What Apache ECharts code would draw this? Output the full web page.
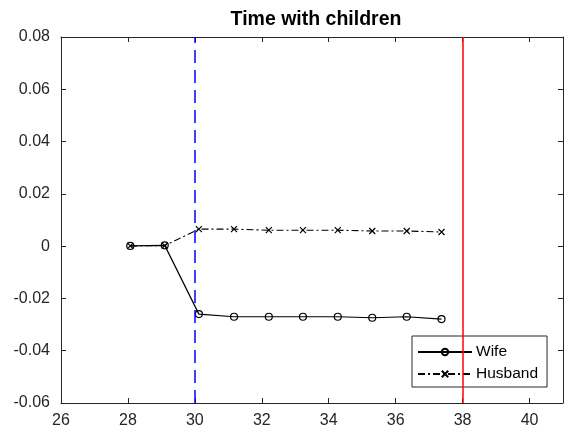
<!DOCTYPE html>
<html>
<head>
<meta charset="utf-8">
<script src="https://cdn.jsdelivr.net/npm/echarts@6/dist/echarts.min.js"></script>
<style>
html,body{margin:0;padding:0;background:#fff;}
#chart{width:573px;height:445px;}
</style>
</head>
<body>
<div id="chart"></div>
<script>
// Data
const ages = [28.07, 29.10, 30.12, 31.17, 32.21, 33.23, 34.27, 35.30, 36.33, 37.37];
const wife = [0.0001, 0.0003, -0.0260, -0.0270, -0.0270, -0.0270, -0.0270, -0.0274, -0.0270, -0.0279];
const husband = [0.0001, 0.0002, 0.0065, 0.0065, 0.0061, 0.0061, 0.0061, 0.0058, 0.0058, 0.0054];
const vlines = [30, 38];
const seriesNames = ['Wife', 'Husband'];
const titleText = 'Time with children';

const axisColor = '#262626';
const fontFam = '"Liberation Sans", Arial, Helvetica, sans-serif';

const chart = echarts.init(document.getElementById('chart'), null, {renderer: 'canvas'});

const xBase = {
  type: 'value', min: 26, max: 41, interval: 2,
  axisLine: {show: true, onZero: false, lineStyle: {color: axisColor, width: 1}},
  axisTick: {show: true, inside: true, length: 5, lineStyle: {color: axisColor}},
  splitLine: {show: false}
};
const yBase = {
  type: 'value', min: -0.06, max: 0.08, interval: 0.02,
  axisLine: {show: true, onZero: false, lineStyle: {color: axisColor, width: 1}},
  axisTick: {show: true, inside: true, length: 5, lineStyle: {color: axisColor}},
  splitLine: {show: false}
};

const option = {
  animation: false,
  backgroundColor: '#fff',
  title: {
    text: titleText,
    left: 316, textAlign: 'center', top: 10, padding: 0,
    textStyle: {fontFamily: fontFam, fontSize: 19.5, fontWeight: 'bold', color: '#000'}
  },
  grid: {left: 61, right: 10, top: 37, bottom: 42, containLabel: false},
  legend: {
    orient: 'vertical',
    left: 412, top: 336,
    padding: [8, 9, 5, 5],
    itemWidth: 54, itemHeight: 8, itemGap: 6,
    backgroundColor: '#fff',
    borderColor: axisColor, borderWidth: 1, borderRadius: 0,
    textStyle: {fontFamily: fontFam, fontSize: 15.5, color: '#000', padding: [0, 0, 0, -1]},
    data: seriesNames
  },
  xAxis: [
    Object.assign({}, xBase, {
      position: 'bottom',
      axisLabel: {color: axisColor, fontFamily: fontFam, fontSize: 16, margin: 10, showMaxLabel: false}
    }),
    Object.assign({}, xBase, {position: 'top', axisLabel: {show: false}})
  ],
  yAxis: [
    Object.assign({}, yBase, {
      position: 'left',
      axisLabel: {
        color: axisColor, fontFamily: fontFam, fontSize: 16, margin: 11,
        formatter: v => (Math.abs(v) < 1e-9 ? '0' : v.toFixed(2))
      }
    }),
    Object.assign({}, yBase, {position: 'right', axisLabel: {show: false}})
  ],
  series: [
    {
      name: seriesNames[0], type: 'line',
      data: ages.map((a, i) => [a, wife[i]]),
      symbol: 'circle', symbolSize: 7, showAllSymbol: true,
      itemStyle: {color: 'transparent', borderColor: '#000', borderWidth: 1.2},
      lineStyle: {color: '#000', width: 1.2, type: 'solid'},
      emphasis: {disabled: true},
      markLine: {
        silent: true, symbol: 'none', animation: false,
        label: {show: false},
        data: [
          {xAxis: vlines[0], lineStyle: {color: '#0000ff', width: 1.5, type: [13, 7]}},
          {xAxis: vlines[1], lineStyle: {color: '#ff0000', width: 1.5, type: 'solid'}}
        ]
      },
      z: 3
    },
    {
      name: seriesNames[1], type: 'line',
      data: ages.map((a, i) => [a, husband[i]]),
      symbol: 'path://M0,0L10,10M10,0L0,10', symbolSize: 6, showAllSymbol: true,
      itemStyle: {color: 'transparent', borderColor: '#000', borderWidth: 1.2},
      lineStyle: {color: '#000', width: 1.1, type: [7, 3, 2, 3]},
      emphasis: {disabled: true},
      z: 3
    }
  ]
};
chart.setOption(option);
</script>
</body>
</html>
